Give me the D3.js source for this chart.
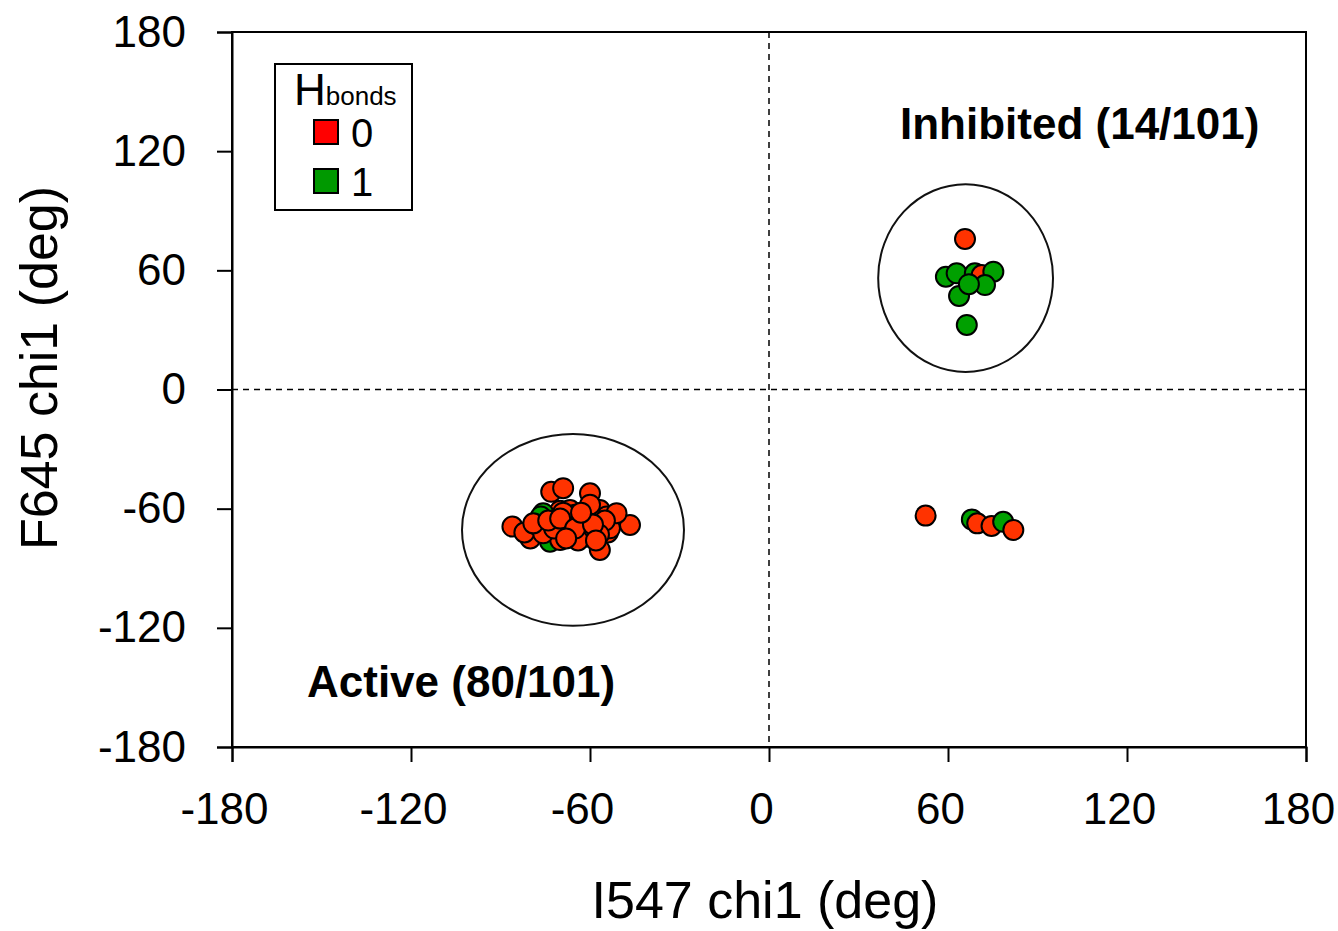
<!DOCTYPE html>
<html><head><meta charset="utf-8">
<script src="https://cdn.jsdelivr.net/npm/d3@7"></script>
<style>body{margin:0;background:#fff}svg{display:block}text{font-family:"Liberation Sans",Arial,sans-serif}</style>
</head><body><svg id="c" width="1338" height="931"></svg>
<script>
// tick labels
const xTicks = [-180,-120,-60,0,60,120,180];
const yTicks = [-180,-120,-60,0,60,120,180];
// series: H-bonds = 0 (red) — active cluster (first block), then inhibited / off-cluster
const red_x = [-76,-72,-68,-64,-60,-56,-52,-74,-70,-66,-62,-58,-54,-77,-73,-69,-65,-61,-57,-53,
  -86,-80,-82,-78,-73,-69,-60,-71,-64.5,-61.7,-56.7,-53.3,-46.6,-70,-75.7,-56.7,-54.4,-66.7,-62.2,-51.1,-79,-68,-65,-63,-59,-58,-67,-72,-60,-55,-62,-69,-66,-64,-57,-74,-61,-70,-65,-59,-63,-68,-58,
  65.7,71.3, 52.5,69.8,74.6,81.9];
const red_y = [-66,-70,-64,-72,-68,-64,-66,-73,-61,-69,-63,-70,-72,-70,-65,-75,-67,-74,-62,-68,
  -69,-75,-72,-68,-51.5,-49.7,-52.3,-67.7,-68.7,-61.5,-80.8,-69.9,-68.2,-75.8,-72.4,-60.7,-64,-60.7,-74.1,-62.3,-67.4,-64,-63,-66,-65,-71,-72,-70,-58,-66,-70,-62,-73,-76,-73,-66,-67,-65,-70,-68,-62,-75,-76,
  75.8,57.6, -63.5,-67.4,-68.7,-70.7];
// series: H-bonds = 1 (green)
const grn_x = [-75.7,-73.4, -76.5, 59.3,62.9,63.7,69,75.2,72.4,66.3,67, 68,78.5];
const grn_y = [-62.3,-76.6, -64, 56.8,58.5,47.1,58.5,59.3,52.6,32.5,53, -65.4,-66.6];

const redPts = red_x.map((x,i)=>({x, y:red_y[i], c:0}));
const grnPts = grn_x.map((x,i)=>({x, y:grn_y[i], c:1}));
// cluster ellipses (center, radii in data units)
const ellipses = [{cx:-65.7,cy:-70.7,rx:37.2,ry:48.3},{cx:65.9,cy:56.1,rx:29.3,ry:47.3}];

const svg = d3.select("#c");
const L=232,R=1306,T=32,B=747;
const x = d3.scaleLinear().domain([-180,180]).range([L,R]);
const y = d3.scaleLinear().domain([-180,180]).range([B,T]);
const colors = ["#ff3300","#00a000"];

// frame
svg.append("rect").attr("x",L).attr("y",T).attr("width",R-L).attr("height",B-T)
  .attr("fill","none").attr("stroke","#000").attr("stroke-width",2);
// dashed zero lines
svg.append("line").attr("x1",x(0)).attr("x2",x(0)).attr("y1",T).attr("y2",B)
  .attr("stroke","#000").attr("stroke-width",1.5).attr("stroke-dasharray","6,5");
svg.append("line").attr("x1",L).attr("x2",R).attr("y1",y(0)).attr("y2",y(0))
  .attr("stroke","#000").attr("stroke-width",1.5).attr("stroke-dasharray","6,5");

// axes
const fmt = d => String(d);
const xa = svg.append("g").attr("transform",`translate(0,${B})`)
  .call(d3.axisBottom(x).tickValues(xTicks).tickSize(15).tickPadding(31).tickFormat(fmt));
const ya = svg.append("g").attr("transform",`translate(${L},0)`)
  .call(d3.axisLeft(y).tickValues(yTicks).tickSize(15).tickPadding(31).tickFormat(fmt));
[xa,ya].forEach(g=>{
  g.select(".domain").attr("stroke","#000").attr("stroke-width",2);
  g.selectAll(".tick line").attr("stroke","#000").attr("stroke-width",2);
  g.selectAll(".tick text").attr("fill","#000").style("font-size","44px")
   .style("font-family","'Liberation Sans',Arial,sans-serif");
});
xa.selectAll(".tick text").attr("dx",-8);

// axis titles
svg.append("text").attr("x",765).attr("y",918).attr("text-anchor","middle")
  .style("font-size","52px").text("I547 chi1 (deg)");
svg.append("text").attr("transform",`translate(57,368) rotate(-90)`).attr("text-anchor","middle")
  .style("font-size","52px").text("F645 chi1 (deg)");

// ellipses
svg.selectAll("ellipse.cl").data(ellipses).join("ellipse").attr("class","cl")
  .attr("cx",d=>x(d.cx)).attr("cy",d=>y(d.cy))
  .attr("rx",d=>x(d.cx+d.rx)-x(d.cx)).attr("ry",d=>y(d.cy-d.ry)-y(d.cy))
  .attr("fill","none").attr("stroke","#111").attr("stroke-width",2);

// points: interleave so green sits amid red
const nA = 63;
const pts = [...redPts.slice(0,20), ...grnPts.slice(0,3), ...redPts.slice(20,nA), ...grnPts.slice(3,7), redPts[nA+1], ...grnPts.slice(7,11), redPts[nA],
  redPts[nA+2], grnPts[11], redPts[nA+3], redPts[nA+4], grnPts[12], redPts[nA+5]];
svg.selectAll("circle.pt").data(pts).join("circle").attr("class","pt")
  .attr("cx",d=>x(d.x)).attr("cy",d=>y(d.y)).attr("r",10)
  .attr("fill",d=>colors[d.c]).attr("stroke","#000").attr("stroke-width",2);

// annotations
svg.append("text").attr("x",900).attr("y",139).style("font-size","44px").style("font-weight","bold").text("Inhibited (14/101)");
svg.append("text").attr("x",307).attr("y",697).style("font-size","44px").style("font-weight","bold").text("Active (80/101)");

// legend
const lg = svg.append("g");
lg.append("rect").attr("x",275).attr("y",64).attr("width",137).attr("height",146)
  .attr("fill","#fff").attr("stroke","#000").attr("stroke-width",2);
const ht = lg.append("text").attr("x",294).attr("y",105);
ht.append("tspan").style("font-size","44px").text("H");
ht.append("tspan").style("font-size","26px").text("bonds");
const lgItems = ["0","1"];
const lgColors = ["#ff0000","#009900"];
lgItems.forEach((t,i)=>{
  lg.append("rect").attr("x",314).attr("y",120+i*49).attr("width",24).attr("height",24)
    .attr("fill",lgColors[i]).attr("stroke","#000").attr("stroke-width",2);
  lg.append("text").attr("x",351).attr("y",147+i*49).style("font-size","40px").text(t);
});
</script></body></html>
